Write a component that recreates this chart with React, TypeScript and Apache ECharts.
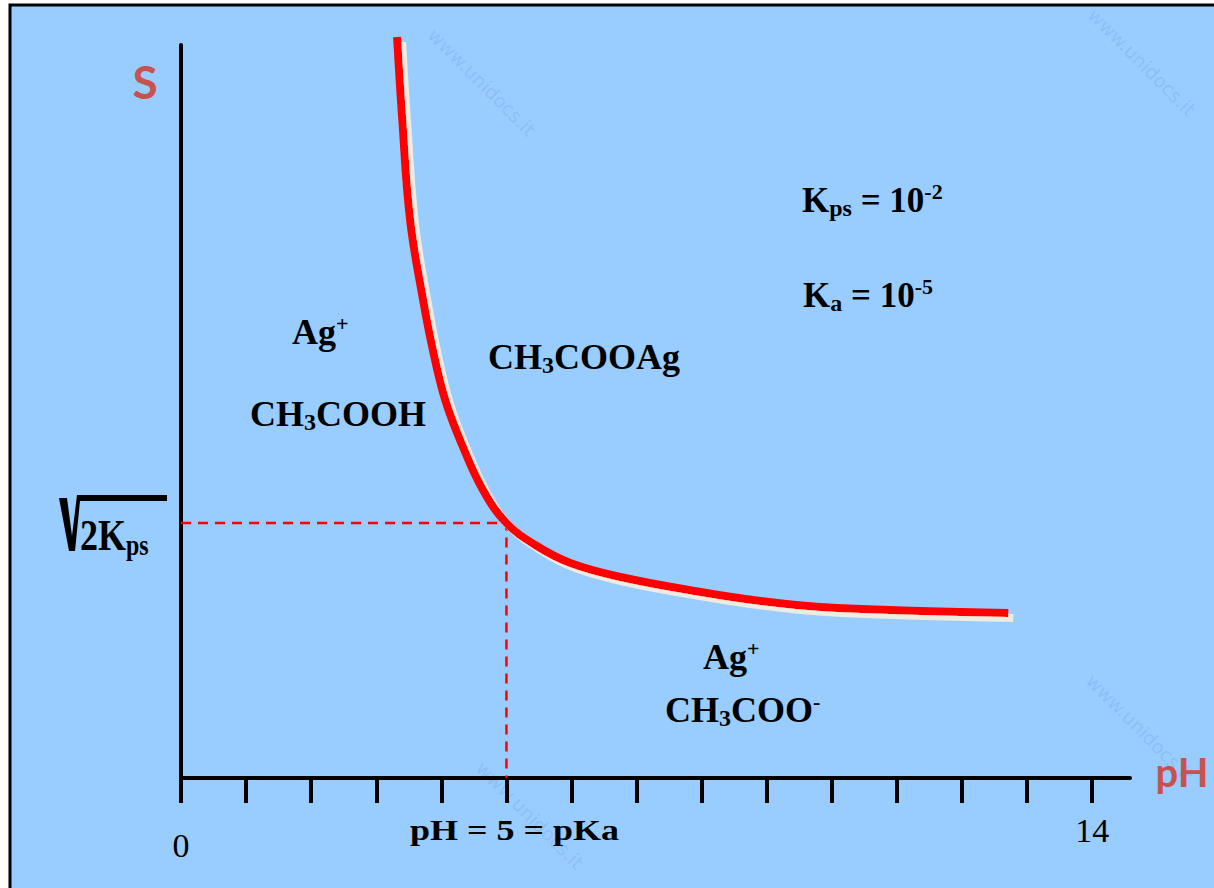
import React, { useEffect, useRef } from "react";
import * as echarts from "echarts";

// Solubility curve (arbitrary S units)
const pHValues = [3.32, 3.40, 3.52, 3.72, 3.87, 4.06, 4.32, 4.64, 5.0, 5.44, 5.98, 6.75, 7.98, 8.90, 9.82, 11.36, 12.71];
const sValues = [7.41, 6.58, 5.58, 4.78, 4.28, 3.78, 3.33, 2.88, 2.55, 2.33, 2.15, 2.01, 1.86, 1.77, 1.71, 1.67, 1.65];

const pKa = 5;
const sAtPKa = 2.55; // level of sqrt(2Kps)

const xTickValues = [0, 1, 2, 3, 4, 5, 6, 7, 8, 9, 10, 11, 12, 13, 14];
const xLabelValues = [0, 14];

const SERIF = "Liberation Serif";
const RED_LABEL = "#C8524E";
const BG = "#99CCFF";

function tok(fontSize: number, lineHeight: number, verticalAlign?: string) {
  const t: any = {
    fontSize,
    lineHeight,
    fontFamily: SERIF,
    fontWeight: "bold",
    fill: "#000",
  };
  if (verticalAlign) t.verticalAlign = verticalAlign;
  return t;
}

function chemRich(main: number) {
  return {
    m: tok(main, 40),
    sub: tok(24, 20, "bottom"),
    sup: tok(22, 28, "top"),
  };
}

function chemText(x: number, y: number, text: string, size = 36, scaleX = 1) {
  return {
    type: "text",
    x,
    y,
    scaleX,
    z: 20,
    style: {
      x: 0,
      y: 0,
      text,
      fill: "#000",
      fontFamily: SERIF,
      fontWeight: "bold",
      fontSize: size,
      align: "left",
      verticalAlign: "middle",
      rich: chemRich(size),
    },
  };
}

function watermark(x: number, y: number) {
  return {
    type: "text",
    x,
    y,
    rotation: -Math.PI / 4,
    z: -5,
    silent: true,
    style: {
      text: "www.unidocs.it",
      fill: "rgba(90,140,210,0.22)",
      fontFamily: "DejaVu Sans",
      fontSize: 19,
      align: "center",
      verticalAlign: "middle",
    },
  };
}

export default function App() {
  const ref = useRef<HTMLDivElement>(null);

  useEffect(() => {
    if (!ref.current) return;
    const chart = echarts.init(ref.current, null, { renderer: "svg" });

    const curve = pHValues.map((x, i) => [x, sValues[i]]);
    const guide = [
      [0, sAtPKa],
      [pKa, sAtPKa],
      [pKa, 0],
    ];

    const option: any = {
      animation: false,
      backgroundColor: "#ffffff",
      grid: { left: 181, right: 84, top: 45, bottom: 110, containLabel: false },
      xAxis: {
        type: "value",
        min: 0,
        max: 14.58,
        axisLine: { show: true, lineStyle: { color: "#000", width: 4 } },
        axisTick: {
          show: true,
          customValues: xTickValues,
          length: 25,
          inside: false,
          lineStyle: { color: "#000", width: 4 },
        },
        axisLabel: {
          show: true,
          customValues: xLabelValues,
          margin: 67,
          verticalAlign: "middle",
          color: "#000",
          fontFamily: SERIF,
          fontSize: 34,
          formatter: (v: number) => (v === 0 ? "{lo|0}" : "{hi|" + v + "}"),
          rich: {
            lo: { fontFamily: SERIF, fontSize: 34, lineHeight: 36, color: "#000" },
            hi: { fontFamily: SERIF, fontSize: 34, lineHeight: 36, color: "#000", padding: [0, 0, 30, 0] },
          },
        },
        splitLine: { show: false },
      },
      yAxis: {
        type: "value",
        min: 0,
        max: 7.33,
        axisLine: { show: true, lineStyle: { color: "#000", width: 4 } },
        axisTick: { show: false },
        axisLabel: { show: false },
        splitLine: { show: false },
      },
      series: [
        {
          type: "line",
          data: guide,
          symbol: "none",
          clip: false,
          z: 3,
          lineStyle: { color: "#FF0000", width: 2.5, type: [10, 7] },
        },
        {
          type: "line",
          data: curve,
          symbol: "none",
          smooth: 0.4,
          clip: false,
          z: 5,
          lineStyle: {
            color: "#FF0000",
            width: 8,
            cap: "butt",
            join: "round",
            shadowColor: "#EEEBE1",
            shadowBlur: 0,
            shadowOffsetX: 5,
            shadowOffsetY: 5,
          },
        },
      ],
      graphic: [
        {
          type: "rect",
          z: -10,
          silent: true,
          shape: { x: 10, y: 5, width: 1400, height: 1100 },
          style: { fill: BG, stroke: "#000", lineWidth: 3 },
        },
        watermark(482, 82),
        watermark(1142, 62),
        watermark(1140, 728),
        watermark(530, 815),
        {
          type: "text",
          x: 145,
          y: 81,
          z: 20,
          style: {
            text: "S",
            fill: RED_LABEL,
            fontFamily: "Lato",
            fontWeight: "bold",
            fontSize: 46,
            align: "center",
            verticalAlign: "middle",
          },
        },
        {
          type: "text",
          x: 1182,
          y: 772,
          z: 20,
          style: {
            text: "pH",
            fill: RED_LABEL,
            fontFamily: "Lato",
            fontWeight: "bold",
            fontSize: 40,
            align: "center",
            verticalAlign: "middle",
          },
        },
        // radical sign for sqrt(2Kps)
        {
          type: "polygon",
          z: 20,
          shape: {
            points: [
              [59, 498],
              [67, 498],
              [72, 536],
              [77, 495],
              [167, 495],
              [167, 501],
              [80, 501],
              [75, 551],
              [69, 551],
            ],
          },
          style: { fill: "#000" },
        },
        {
          type: "text",
          x: 80,
          y: 535,
          scaleX: 0.8,
          z: 20,
          style: {
            x: 0,
            y: 0,
            text: "{m|2K}{s|ps}",
            fill: "#000",
            fontFamily: SERIF,
            fontWeight: "bold",
            fontSize: 45,
            align: "left",
            verticalAlign: "middle",
            rich: {
              m: tok(45, 50),
              s: tok(30, 36, "bottom"),
            },
          },
        },
        chemText(292, 332, "{m|Ag}{sup|+}", 36),
        chemText(250, 414, "{m|CH}{sub|3}{m|COOH}", 36),
        chemText(488, 357, "{m|CH}{sub|3}{m|COOAg}", 36),
        chemText(703, 657, "{m|Ag}{sup|+}", 36),
        chemText(665, 710, "{m|CH}{sub|3}{m|COO}{sup|-}", 36),
        chemText(802, 200, "{m|K}{sub|ps}{m| = 10}{sup|-2}", 35),
        chemText(803, 295, "{m|K}{sub|a}{m| = 10}{sup|-5}", 35),
        chemText(410, 830, "{m|pH = 5 = pKa}", 30, 1.2),
      ],
    };

    chart.setOption(option);
    return () => chart.dispose();
  }, []);

  return (
    <div
      ref={ref}
      style={{ position: "absolute", left: 0, top: 0, width: 1214, height: 888 }}
    />
  );
}
